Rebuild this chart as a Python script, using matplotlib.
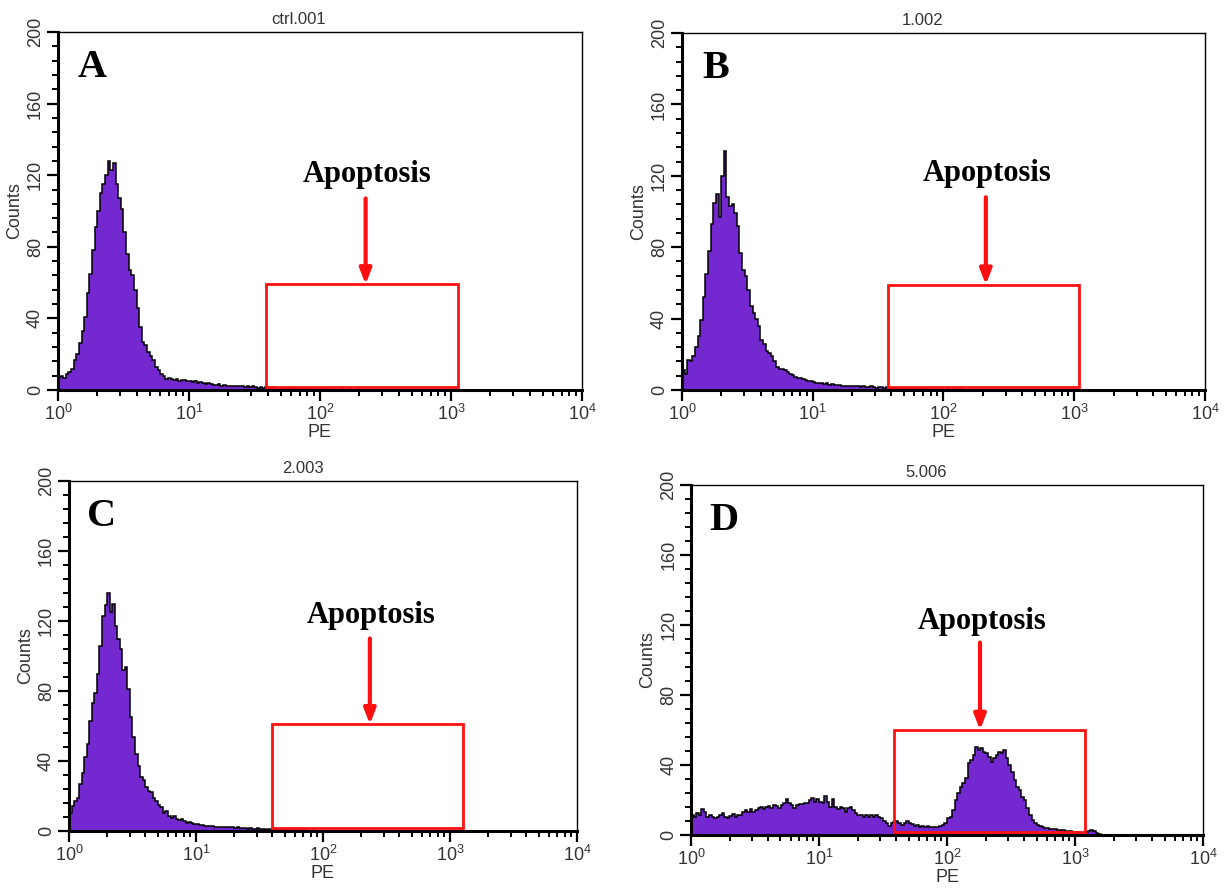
import numpy as np
import matplotlib
matplotlib.use('Agg')
import matplotlib.pyplot as plt
from matplotlib.patches import Rectangle
from matplotlib.ticker import MultipleLocator, LogLocator, NullFormatter

plt.rcParams['font.family'] = ['Liberation Sans', 'DejaVu Sans']
plt.rcParams['mathtext.fontset'] = 'custom'
plt.rcParams['mathtext.rm'] = 'Liberation Sans'
plt.rcParams['mathtext.it'] = 'Liberation Sans'

# 荧光通道：0.02 decade 一个 bin，共 200 个 (10^0 ~ 10^4)，后面没写的都是 0
n_bins = 200

counts_a = [7, 8, 6.5, 9, 10, 12, 17, 20, 26, 33,
            41, 54, 65, 78, 91, 100, 110, 115, 120, 128,
            123, 127, 115, 107, 101, 88, 76, 67, 64, 56,
            46, 35, 27, 25, 21, 19, 17, 13, 11, 9,
            8, 6, 6.5, 6, 5.5, 6, 5, 5.5, 5.5, 5,
            5, 4.5, 5, 4, 4.5, 4, 3.5, 4, 3.5, 3,
            3, 3.5, 2.5, 3, 2.5, 2.5, 2, 2.5, 2, 2,
            2, 1.5, 2, 1.5, 2, 1.5, 1, 1.5, 1, 1.5,
            1, 1, 1.5, 1, 1, 0.5, 1, 1, 0.5, 1,
            0.5, 1, 0.5, 0.5, 1, 0.5, 0.5, 0.5, 0, 0.5,
            0.5, 0, 0.5, 0.5, 0, 0.5, 0, 0, 0.5, 0,
            0, 0.5, 0, 0, 0.5]
counts_b = [11, 9, 17, 16, 19, 24, 30, 39, 52, 65,
            78, 93, 105, 110, 97, 120, 134, 108, 103, 104,
            99, 92, 77, 67, 64, 56, 47, 43, 40, 36,
            28, 26, 22, 21, 19, 16, 13, 12, 12, 11,
            10, 9, 8.5, 7.5, 7, 6.5, 6, 5.5, 5, 5,
            4.5, 4, 4, 4, 3.5, 4, 3, 3.5, 3, 3,
            3, 2.5, 2.5, 2, 2.5, 2, 2, 2, 1.5, 2,
            1.5, 1.5, 2, 1.5, 1, 1.5, 1.5, 1, 1.5, 1,
            1, 1, 0.5, 1, 1, 0.5, 1, 0.5, 1, 0.5,
            0.5, 0.5, 1, 0.5, 0.5, 0, 0.5, 0.5, 0, 0.5,
            0, 0.5, 0, 0, 0.5, 0, 0.5]
counts_c = [10, 14, 17, 19, 27, 33, 42, 50, 63, 73,
            79, 90, 106, 123, 129, 136, 125, 130, 117, 110,
            104, 92, 94, 81, 65, 54, 44, 37, 31, 29,
            25, 23, 22, 19, 17, 15, 13.5, 10.5, 11.5, 8.7,
            7.7, 8.7, 6.7, 6.2, 6.7, 5.8, 4.8, 5.2, 4.6, 4.2,
            4, 3.5, 3.5, 3, 3, 3, 3, 2.5, 2.5, 2.5,
            2, 2.5, 2, 2, 2, 1.5, 2, 1.5, 1.5, 1.5,
            1, 1.5, 1, 1, 1.5, 1, 1, 0.5, 1, 1,
            0.5, 1, 0.5, 0.5, 1, 0.5, 0.5, 0, 0.5, 0.5,
            0, 0.5, 0, 0.5, 0, 0, 0.5]
counts_d = [11.4, 10.5, 12.4, 11.4, 14.7, 13.3, 10.5, 11.4, 10, 9.5,
            10, 11.4, 12.8, 10, 9.5, 10.9, 11.8, 10.5, 11.4, 11.4,
            13.3, 14.3, 13.3, 14.7, 13.3, 14.3, 15.2, 16.2, 14.7, 15.8,
            16.6, 15.2, 17, 16.6, 15.2, 17, 18.5, 20.4, 18, 17,
            15.2, 17, 17.7, 17.7, 18, 18, 20, 21, 19, 20.4,
            19, 18, 22, 19, 16.2, 20.4, 16.2, 14.7, 16.2, 15.2,
            13.3, 15.2, 16.2, 14.3, 12.4, 11.4, 11.4, 10.5, 11.4, 10.5,
            11.4, 10.5, 11.4, 10, 9.5, 8.2, 6.7, 5.1, 6.7, 7.6,
            8.2, 6.7, 5.7, 7, 8.2, 7, 6.3, 5.1, 5.7, 4.8,
            5.1, 4.8, 5.1, 4.4, 4.4, 4.8, 4.4, 5.1, 5.7, 6.7,
            9.5, 10.5, 14.3, 20, 23.8, 27.6, 29.5, 32.4, 41, 42.9,
            45.7, 50.5, 48.6, 49.5, 47.6, 46.7, 44.8, 41.9, 43.8, 45.7,
            47.6, 46.7, 48.6, 43.8, 40, 36.2, 31.4, 27.6, 25.7, 21.9,
            20, 15.2, 11.4, 8.6, 6.7, 5.7, 5.1, 4.8, 3.8, 3.8,
            3.6, 3.2, 3.2, 2.9, 2.9, 2.9, 2.5, 2.5, 2.1, 1.9,
            1.7, 1.5, 1.3, 1.3, 1.7, 2.3, 2.9, 2.3, 1, 0.5]

titles = ['ctrl.001', '1.002', '2.003', '5.006']
letters = ['A', 'B', 'C', 'D']
all_counts = [counts_a, counts_b, counts_c, counts_d]

# 凋亡门 (x0, x1, y_top) 和箭头 x 位置 / 文字位置
gates = [(39, 1130, 59), (38, 1090, 59), (40, 1260, 61), (38.5, 1200, 60)]
arrow_x = [223, 211, 234, 181]
arrow_y0 = [107, 108, 110, 110]
label_y = [116, 117, 119, 118]

# 各子图在画布中的位置 [left, bottom, width, height]
positions = [[0.0473, 0.5608, 0.4278, 0.4032],
             [0.5567, 0.5608, 0.4269, 0.4020],
             [0.0563, 0.0642, 0.4147, 0.3941],
             [0.5641, 0.0597, 0.4180, 0.3941]]

purple = '#7428CF'
edges = 10 ** np.linspace(0, 4, n_bins + 1)

fig = plt.figure(figsize=(12.25, 8.88), dpi=100)

for k in range(4):
    ax = fig.add_axes(positions[k])
    vals = np.zeros(n_bins)
    vals[:len(all_counts[k])] = all_counts[k]

    # 直方图：紫色填充 + 黑色轮廓
    ax.stairs(vals, edges, fill=True, color=purple, lw=0)
    ax.stairs(vals, edges, color='black', lw=1.1)

    ax.set_xscale('log')
    ax.set_xlim(1, 1e4)
    ax.set_ylim(0, 200)
    ax.yaxis.set_major_locator(MultipleLocator(40))
    ax.yaxis.set_minor_locator(MultipleLocator(8))
    ax.xaxis.set_major_locator(LogLocator(base=10, numticks=10))
    ax.xaxis.set_minor_locator(LogLocator(base=10, subs=np.arange(2, 10), numticks=10))
    ax.xaxis.set_minor_formatter(NullFormatter())

    ax.tick_params(axis='both', which='major', direction='out', length=8, width=1.6,
                   labelsize=13, labelcolor='#333333', pad=2)
    ax.tick_params(axis='both', which='minor', direction='out', length=4.5, width=1.4)
    for lab in ax.get_yticklabels():
        lab.set_rotation(90)
        lab.set_va('center')

    ax.spines['left'].set_linewidth(2.2)
    ax.spines['bottom'].set_linewidth(2.2)
    ax.spines['top'].set_linewidth(1.0)
    ax.spines['right'].set_linewidth(1.0)

    ax.set_ylabel('Counts', fontsize=13, color='#333333', labelpad=3)
    ax.set_xlabel('PE', fontsize=13, color='#333333', labelpad=0)

    ax.text(0.46, 1.015, titles[k], transform=ax.transAxes, ha='center', va='bottom',
            fontsize=12, color='#333333')
    ax.text(0.065, 0.9, letters[k], transform=ax.transAxes, ha='center', va='center',
            fontsize=29, fontweight='bold', family='Liberation Serif')

    # 凋亡区域框 + 箭头 + 标注
    x0, x1, ytop = gates[k]
    ax.add_patch(Rectangle((x0, 1.7), x1 - x0, ytop - 1.7, fill=False,
                           edgecolor='#FF1010', lw=2.0, zorder=5))
    ax.annotate('', xy=(arrow_x[k], ytop), xytext=(arrow_x[k], arrow_y0[k]),
                arrowprops=dict(arrowstyle='-|>,head_width=0.35,head_length=0.9',
                                color='#FF1010', lw=3, shrinkA=0, shrinkB=0), zorder=6)
    ax.text(arrow_x[k] * 1.03, label_y[k], 'Apoptosis', ha='center', va='baseline',
            fontsize=22, fontweight='bold', family='Liberation Serif')

fig.savefig('out.png', dpi=100)
